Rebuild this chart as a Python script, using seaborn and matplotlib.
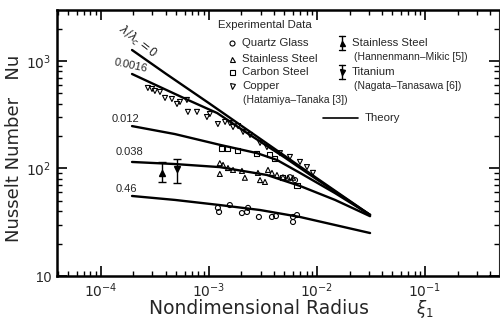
import numpy as np
import pandas as pd
import matplotlib
matplotlib.use("Agg")
import matplotlib.pyplot as plt
import seaborn as sns
from matplotlib.ticker import FixedLocator, LogLocator, NullFormatter, FixedFormatter

# ---------------- data ----------------
# Theory curves: lambda/lambda_c values and (xi, Nu) points
theory_labels = ["0", "0.0016", "0.012", "0.038", "0.46"]
th0_xi = [1.94e-4, 4e-4, 1e-3, 3e-3, 1e-2, 3.1e-2]
th0_nu = [1265, 760, 405, 188, 81, 37]
th1_xi = [1.94e-4, 3.52e-4, 6.39e-4, 1.19e-3, 2.25e-3, 5e-3, 1e-2, 3.1e-2]
th1_nu = [757, 573, 434, 328, 214, 127, 79, 37]
th2_xi = [1.94e-4, 4.84e-4, 1.26e-3, 2.78e-3, 4.26e-3, 6.96e-3, 1.47e-2, 3.1e-2]
th2_nu = [248, 209, 166, 139, 120, 91, 59, 37]
th3_xi = [1.94e-4, 4.84e-4, 1.26e-3, 3.44e-3, 6.96e-3, 1.47e-2, 3.1e-2]
th3_nu = [115, 110, 103, 87, 68.8, 51, 36]
th4_xi = [1.94e-4, 4.84e-4, 1.26e-3, 2.97e-3, 6.96e-3, 3.1e-2]
th4_nu = [55.5, 51, 45.7, 41.1, 35.4, 25.1]

# Experimental data
quartz_xi = [1.21e-3, 1.24e-3, 1.56e-3, 2.02e-3, 2.25e-3, 2.30e-3, 2.90e-3, 3.83e-3,
             4.17e-3, 6.00e-3, 6.00e-3, 6.53e-3, 5.62e-3, 6.26e-3]
quartz_nu = [43, 39.4, 45.7, 38.5, 39.4, 43, 35.4, 35.4, 36.1, 35.4, 31.8, 36.9, 83, 78]

stainless_xi = [1.26e-3, 1.35e-3, 1.26e-3, 1.50e-3, 1.67e-3, 2.02e-3, 2.15e-3, 2.84e-3,
                2.97e-3, 3.30e-3, 3.52e-3, 3.83e-3, 4.26e-3, 4.84e-3, 5.39e-3, 6.00e-3]
stainless_nu = [112, 108, 89, 101, 97, 95, 82, 91, 78, 75, 97, 91, 87, 83, 82, 82]

carbon_xi = [1.32e-3, 1.47e-3, 1.82e-3, 2.78e-3, 3.67e-3, 4.08e-3, 4.84e-3, 6.53e-3]
carbon_nu = [155, 152, 146, 139, 134, 123, 83, 70]

copper_xi = [2.72e-4, 2.97e-4, 3.16e-4, 3.52e-4, 3.92e-4, 4.54e-4, 5.06e-4, 5.39e-4,
             6.25e-4, 6.39e-4, 7.75e-4, 9.58e-4, 1.02e-3, 1.21e-3, 1.41e-3, 1.56e-3,
             1.67e-3, 1.86e-3, 2.07e-3, 2.40e-3, 2.97e-3, 3.44e-3, 4.54e-3, 5.62e-3,
             6.96e-3, 8.08e-3, 9.18e-3]
copper_nu = [561, 549, 526, 515, 453, 443, 398, 416, 434, 336, 336, 301, 321, 259,
             271, 265, 243, 248, 219, 205, 173, 158, 139, 128, 115, 103, 91]

# Error-bar data: Stainless (Hannenmann-Mikic), Titanium (Nagata-Tanasawa)
eb_xi = [3.67e-4, 5.06e-4]
eb_nu = [91, 99]
eb_lo = [75, 73]
eb_hi = [115, 123]

x_ticks = [1e-4, 1e-3, 1e-2, 1e-1]
x_ticklabels = ["$10^{-4}$", "$10^{-3}$", "$10^{-2}$", "$10^{-1}$"]
y_ticks = [10, 100, 1000]
y_ticklabels = ["10", "$10^2$", "$10^3$"]

# ---------------- figure ----------------
sns.set_style("ticks")
plt.rcParams["font.family"] = ["Liberation Sans", "DejaVu Sans"]
plt.rcParams["mathtext.fontset"] = "dejavusans"

W, H = 500, 323
fig = plt.figure(figsize=(W / 100, H / 100), dpi=100)
ax = fig.add_axes([57 / W, 1 - 276 / H, (499 - 57) / W, (276 - 10) / H])

theory = pd.concat([
    pd.DataFrame({"xi": xs, "Nu": ns, "lam": lab})
    for xs, ns, lab in zip([th0_xi, th1_xi, th2_xi, th3_xi, th4_xi],
                           [th0_nu, th1_nu, th2_nu, th3_nu, th4_nu], theory_labels)
])
sns.lineplot(data=theory, x="xi", y="Nu", units="lam", estimator=None, sort=False,
             color="black", lw=1.7, ax=ax, legend=False)

mk = dict(facecolor="none", edgecolor="black", linewidth=0.8, s=13, ax=ax, legend=False)
sns.scatterplot(x=quartz_xi, y=quartz_nu, marker="o", **mk)
sns.scatterplot(x=stainless_xi, y=stainless_nu, marker="^", **mk)
sns.scatterplot(x=carbon_xi, y=carbon_nu, marker="s", **mk)
sns.scatterplot(x=copper_xi, y=copper_nu, marker="v", **mk)

yerr = [np.array(eb_nu) - np.array(eb_lo), np.array(eb_hi) - np.array(eb_nu)]
ax.errorbar(eb_xi[:1], eb_nu[:1], yerr=[yerr[0][:1], yerr[1][:1]], fmt="^", color="black",
            ms=4, capsize=3, elinewidth=1, capthick=1)
ax.errorbar(eb_xi[1:], eb_nu[1:], yerr=[yerr[0][1:], yerr[1][1:]], fmt="v", color="black",
            ms=4, capsize=3, elinewidth=1, capthick=1)

ax.set_xscale("log")
ax.set_yscale("log")
ax.set_xlim(3.92e-5, 0.484)
ax.set_ylim(10, 2980)
ax.xaxis.set_major_locator(FixedLocator(x_ticks))
ax.xaxis.set_major_formatter(FixedFormatter(x_ticklabels))
ax.yaxis.set_major_locator(FixedLocator(y_ticks))
ax.yaxis.set_major_formatter(FixedFormatter(y_ticklabels))
ax.xaxis.set_minor_locator(LogLocator(base=10, subs=np.arange(2, 10)))
ax.yaxis.set_minor_locator(LogLocator(base=10, subs=np.arange(2, 10)))
ax.xaxis.set_minor_formatter(NullFormatter())
ax.yaxis.set_minor_formatter(NullFormatter())
ax.tick_params(which="both", direction="in", top=True, right=True, color="black",
               labelsize=10, pad=4)
ax.tick_params(which="major", length=7, width=1.2)
ax.tick_params(which="minor", length=3.5, width=1.0)
for side in ["left", "bottom", "top"]:
    ax.spines[side].set_linewidth(1.8)
    ax.spines[side].set_color("black")
ax.spines["right"].set_linewidth(0.8)
ax.set_xlabel("")
ax.set_ylabel("")

def ftext(x, y, s, **kw):
    fig.text(x / W, 1 - y / H, s, **kw)

ftext(14, 148, "Nusselt Number   Nu", rotation=90, ha="center", va="center",
      fontsize=13, family="DejaVu Sans")
ftext(259, 309, "Nondimensional Radius", ha="center", va="center", fontsize=13.5,
      family="DejaVu Sans")
ftext(425, 309, r"$\xi_1$", ha="center", va="center", fontsize=12)

# curve labels
ftext(138, 42, r"$\lambda/\lambda_c = 0$", rotation=-38, ha="center", va="center", fontsize=8.3)
ftext(131, 66, "0.0016", rotation=-12, ha="center", va="center", fontsize=8)
ftext(126, 119, "0.012", ha="center", va="center", fontsize=8)
ftext(129, 152, "0.038", ha="center", va="center", fontsize=8)
ftext(126, 189, "0.46", ha="center", va="center", fontsize=8)

# legend (manual)
fs = 8.2
ftext(218, 25, "Experimental Data", ha="left", va="center", fontsize=fs)
leg_rows = [("o", 43, "Quartz Glass"), ("^", 59, "Stainless Steel"),
            ("s", 72, "Carbon Steel"), ("v", 86, "Copper")]
for m, y, s in leg_rows:
    fig.lines.append(plt.Line2D([232 / W], [1 - y / H], marker=m, ms=3.6, mfc="none",
                                mec="black", mew=0.8, transform=fig.transFigure))
    ftext(242, y, s, ha="left", va="center", fontsize=fs)
ftext(243, 100, "(Hatamiya\u2013Tanaka [3])", ha="left", va="center", fontsize=fs - 0.7)
for m, y, s, s2 in [("^", 43, "Stainless Steel", "(Hannenmann\u2013Mikic [5])"),
                    ("v", 72, "Titanium", "(Nagata\u2013Tanasawa [6])")]:
    fig.lines.append(plt.Line2D([342 / W, 342 / W], [1 - (y - 7) / H, 1 - (y + 7) / H],
                                color="black", lw=1, transform=fig.transFigure))
    for yy in (y - 7, y + 7):
        fig.lines.append(plt.Line2D([339 / W, 345 / W], [1 - yy / H, 1 - yy / H],
                                    color="black", lw=1, transform=fig.transFigure))
    fig.lines.append(plt.Line2D([342 / W], [1 - y / H], marker=m, ms=3.6, mfc="black",
                                mec="black", transform=fig.transFigure))
    ftext(352, y, s, ha="left", va="center", fontsize=fs)
    ftext(354, y + 14, s2, ha="left", va="center", fontsize=fs - 0.7)
fig.lines.append(plt.Line2D([323 / W, 358 / W], [1 - 118 / H, 1 - 118 / H], color="black",
                            lw=1.2, transform=fig.transFigure))
ftext(365, 118, "Theory", ha="left", va="center", fontsize=fs)

fig.savefig("out.png", dpi=100, facecolor="white")
